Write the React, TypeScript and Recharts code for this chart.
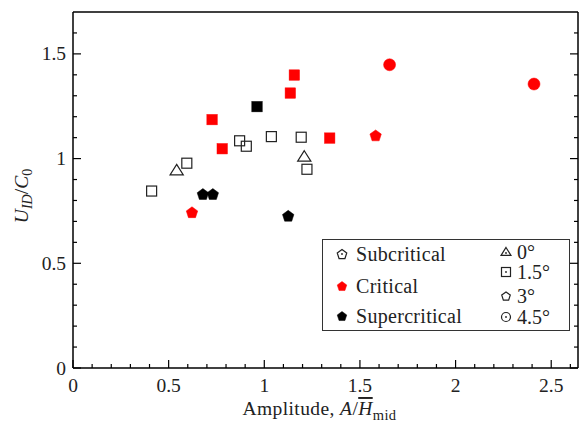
import React from 'react'
import { ScatterChart, Scatter, XAxis, YAxis, Legend } from 'recharts'

// subcritical, 0 deg (open triangles)
const sub0 = [[0.542, 0.944], [1.209, 1.009]]
// subcritical, 1.5 deg (open squares)
const sub15 = [
  [0.411, 0.845], [0.595, 0.978], [0.871, 1.085], [0.906, 1.059],
  [1.037, 1.105], [1.193, 1.102], [1.223, 0.949],
]
// critical, 1.5 deg (red squares)
const crit15 = [[0.727, 1.186], [0.780, 1.047], [1.136, 1.313], [1.157, 1.399], [1.342, 1.098]]
// supercritical, 1.5 deg (black square)
const super15 = [[0.962, 1.248]]
// critical, 3 deg (red pentagons)
const crit3 = [[0.622, 0.744], [1.582, 1.111]]
// supercritical, 3 deg (black pentagons)
const super3 = [[0.679, 0.831], [0.731, 0.831], [1.125, 0.727]]
// critical, 4.5 deg (red circles)
const crit45 = [[1.655, 1.448], [2.410, 1.356]]

const xMajor = [0, 0.5, 1, 1.5, 2, 2.5]
const xTicks = [
  0, 0.1, 0.2, 0.3, 0.4, 0.5, 0.6, 0.7, 0.8, 0.9, 1, 1.1, 1.2, 1.3,
  1.4, 1.5, 1.6, 1.7, 1.8, 1.9, 2, 2.1, 2.2, 2.3, 2.4, 2.5, 2.6,
]
const yMajor = [0, 0.5, 1, 1.5]
const yTicks = [0, 0.1, 0.2, 0.3, 0.4, 0.5, 0.6, 0.7, 0.8, 0.9, 1, 1.1, 1.2, 1.3, 1.4, 1.5, 1.6]

const regimes = ['Subcritical', 'Critical', 'Supercritical']
const angles = ['0°', '1.5°', '3°', '4.5°']

const FONT = 'Liberation Serif, serif'
const FS = 19.5
const RED = '#ff0000'
const OPEN = '#222222'

const toPts = (arr: number[][]) => arr.map(([x, y]) => ({ x, y }))

const isMajor = (v: number, majors: number[]) => majors.some((m) => Math.abs(m - v) < 1e-6)

type Kind = 'square' | 'triangle' | 'pentagon' | 'circle'

function MarkerSvg({ cx, cy, kind, color, open, r, dot }: {
  cx: number; cy: number; kind: Kind; color: string; open?: boolean; r: number; dot?: boolean
}) {
  const fill = open ? 'none' : color
  const stroke = open ? OPEN : color
  const sw = open ? 1.2 : 0.5
  let el: React.ReactNode = null
  if (kind === 'square') {
    el = <rect x={cx - r} y={cy - r} width={2 * r} height={2 * r} fill={fill} stroke={stroke} strokeWidth={sw} />
  } else if (kind === 'circle') {
    el = <circle cx={cx} cy={cy} r={r} fill={fill} stroke={stroke} strokeWidth={sw} />
  } else if (kind === 'triangle') {
    const pts = [
      [cx, cy - r],
      [cx + r * 1.1, cy + r * 0.75],
      [cx - r * 1.1, cy + r * 0.75],
    ]
    el = <polygon points={pts.map((p) => p.join(',')).join(' ')} fill={fill} stroke={stroke} strokeWidth={sw} strokeLinejoin="miter" />
  } else {
    const pts: number[][] = []
    for (let i = 0; i < 5; i++) {
      const a = -Math.PI / 2 + (i * 2 * Math.PI) / 5
      pts.push([cx + r * Math.cos(a), cy + r * Math.sin(a) + r * 0.1])
    }
    el = <polygon points={pts.map((p) => p.join(',')).join(' ')} fill={fill} stroke={stroke} strokeWidth={sw} />
  }
  return (
    <g>
      {el}
      {dot && <circle cx={cx} cy={cy + (kind === 'triangle' ? 1 : 0)} r={0.9} fill={OPEN} />}
    </g>
  )
}

const shape = (kind: Kind, color: string, r: number, open?: boolean) => (props: any) => (
  <MarkerSvg cx={props.cx} cy={props.cy} kind={kind} color={color} r={r} open={open} />
)

const BottomTick = (props: any) => {
  const { x, y, payload } = props
  const major = isMajor(payload.value, xMajor)
  return (
    <g>
      <line x1={x} x2={x} y1={y} y2={y - (major ? 8 : 4)} stroke="#000" strokeWidth={1.2} />
      {major && (
        <text x={x} y={y + 24} textAnchor="middle" fontFamily={FONT} fontSize={FS} fill="#222">
          {String(payload.value)}
        </text>
      )}
    </g>
  )
}

const TopTick = (props: any) => {
  const { x, y, payload } = props
  const major = isMajor(payload.value, xMajor)
  return <line x1={x} x2={x} y1={y} y2={y + (major ? 8 : 4)} stroke="#000" strokeWidth={1.2} />
}

const LeftTick = (props: any) => {
  const { x, y, payload } = props
  const major = isMajor(payload.value, yMajor)
  return (
    <g>
      <line x1={x} x2={x + (major ? 8 : 4)} y1={y} y2={y} stroke="#000" strokeWidth={1.2} />
      {major && (
        <text x={x - 7} y={y + 6.5} textAnchor="end" fontFamily={FONT} fontSize={FS} fill="#222">
          {String(payload.value)}
        </text>
      )}
    </g>
  )
}

const RightTick = (props: any) => {
  const { x, y, payload } = props
  const major = isMajor(payload.value, yMajor)
  return <line x1={x} x2={x - (major ? 8 : 4)} y1={y} y2={y} stroke="#000" strokeWidth={1.2} />
}

const XLabel = (props: any) => {
  const vb = props.viewBox
  return (
    <text x={vb.x + vb.width / 2 - 6} y={415} textAnchor="middle" fontFamily={FONT} fontSize={FS} letterSpacing={0.4} fill="#222">
      <tspan>Amplitude, </tspan>
      <tspan fontStyle="italic">A</tspan>
      <tspan>/</tspan>
      <tspan fontStyle="italic" style={{ textDecoration: 'overline' }}>H</tspan>
      <tspan fontSize={14.5} dy={5}>mid</tspan>
    </text>
  )
}

const YLabel = (props: any) => {
  const vb = props.viewBox
  const cx = 28
  const cy = vb.y + vb.height / 2 + 6
  return (
    <text x={cx} y={cy} textAnchor="middle" transform={`rotate(-90, ${cx}, ${cy})`} fontFamily={FONT} fontSize={FS} fill="#222">
      <tspan fontStyle="italic">U</tspan>
      <tspan fontStyle="italic" fontSize={14} dy={4}>ID</tspan>
      <tspan dy={-4}>/</tspan>
      <tspan fontStyle="italic">C</tspan>
      <tspan fontSize={14} dy={4}>0</tspan>
    </text>
  )
}

const regimeMarker = [
  { color: OPEN, open: true, dot: true },
  { color: RED, open: false, dot: false },
  { color: '#000', open: false, dot: false },
]
const angleMarker: { kind: Kind; dot?: boolean }[] = [
  { kind: 'triangle', dot: true },
  { kind: 'square', dot: true },
  { kind: 'pentagon' },
  { kind: 'circle', dot: true },
]
const regimeRowTop = [14, 46, 76]
const angleRowTop = [12, 32, 56, 77]

const LegendBox = () => (
  <div
    style={{
      width: 248,
      height: 92,
      border: '1px solid #333',
      background: '#fff',
      position: 'relative',
      fontFamily: FONT,
      fontSize: 20,
      color: '#222',
      boxSizing: 'border-box',
    }}
  >
    {regimes.map((name, i) => (
      <div key={name} style={{ position: 'absolute', left: 12, top: regimeRowTop[i] - 12, display: 'flex', alignItems: 'center', height: 24 }}>
        <svg width={14} height={14} style={{ marginRight: 7 }}>
          <MarkerSvg cx={7} cy={7} kind="pentagon" r={5} color={regimeMarker[i].color} open={regimeMarker[i].open} dot={regimeMarker[i].dot} />
        </svg>
        <span style={{ lineHeight: '24px', letterSpacing: 0.3 }}>{name}</span>
      </div>
    ))}
    {angles.map((name, i) => (
      <div key={name} style={{ position: 'absolute', left: 176, top: angleRowTop[i] - 12, display: 'flex', alignItems: 'center', height: 24 }}>
        <svg width={14} height={14} style={{ marginRight: 4 }}>
          <MarkerSvg cx={7} cy={7} kind={angleMarker[i].kind} r={4.5} color={OPEN} open dot={angleMarker[i].dot} />
        </svg>
        <span style={{ lineHeight: '24px' }}>{name}</span>
      </div>
    ))}
  </div>
)

export default function App() {
  return (
    <div style={{ position: 'absolute', left: 0, top: 0, background: '#fff', fontFamily: FONT }}>
      <ScatterChart width={579} height={423} margin={{ top: 0, right: 0, bottom: 0, left: 0 }}>
        <XAxis
          xAxisId={0}
          dataKey="x"
          type="number"
          domain={[0, 2.64]}
          ticks={xTicks}
          interval={0}
          allowDataOverflow
          height={55}
          tickSize={0}
          tickMargin={0}
          tickLine={false}
          tick={BottomTick}
          axisLine={{ stroke: '#000', strokeWidth: 1.5 }}
          label={{ content: XLabel }}
        />
        <XAxis
          xAxisId="top"
          orientation="top"
          type="number"
          domain={[0, 2.64]}
          ticks={xTicks}
          interval={0}
          allowDataOverflow
          height={12}
          tickSize={0}
          tickMargin={0}
          tickLine={false}
          tick={TopTick}
          axisLine={{ stroke: '#000', strokeWidth: 1.5 }}
        />
        <YAxis
          yAxisId={0}
          dataKey="y"
          type="number"
          domain={[0, 1.7]}
          ticks={yTicks}
          interval={0}
          allowDataOverflow
          width={73}
          tickSize={0}
          tickMargin={0}
          tickLine={false}
          tick={LeftTick}
          axisLine={{ stroke: '#000', strokeWidth: 1.5 }}
          label={{ content: YLabel }}
        />
        <YAxis
          yAxisId="right"
          orientation="right"
          type="number"
          domain={[0, 1.7]}
          ticks={yTicks}
          interval={0}
          allowDataOverflow
          width={1}
          tickSize={0}
          tickMargin={0}
          tickLine={false}
          tick={RightTick}
          axisLine={{ stroke: '#000', strokeWidth: 1.5 }}
        />
        <Legend
          layout="horizontal"
          verticalAlign="middle"
          align="center"
          content={LegendBox}
          wrapperStyle={{ left: 322, top: 239, width: 248, height: 92 }}
        />
        <Scatter name="sub0" data={toPts(sub0)} shape={shape('triangle', OPEN, 6, true)} isAnimationActive={false} />
        <Scatter name="sub15" data={toPts(sub15)} shape={shape('square', OPEN, 5, true)} isAnimationActive={false} />
        <Scatter name="crit15" data={toPts(crit15)} shape={shape('square', RED, 5.2)} isAnimationActive={false} />
        <Scatter name="super15" data={toPts(super15)} shape={shape('square', '#000', 5.2)} isAnimationActive={false} />
        <Scatter name="crit3" data={toPts(crit3)} shape={shape('pentagon', RED, 6)} isAnimationActive={false} />
        <Scatter name="super3" data={toPts(super3)} shape={shape('pentagon', '#000', 6)} isAnimationActive={false} />
        <Scatter name="crit45" data={toPts(crit45)} shape={shape('circle', RED, 6)} isAnimationActive={false} />
      </ScatterChart>
    </div>
  )
}
